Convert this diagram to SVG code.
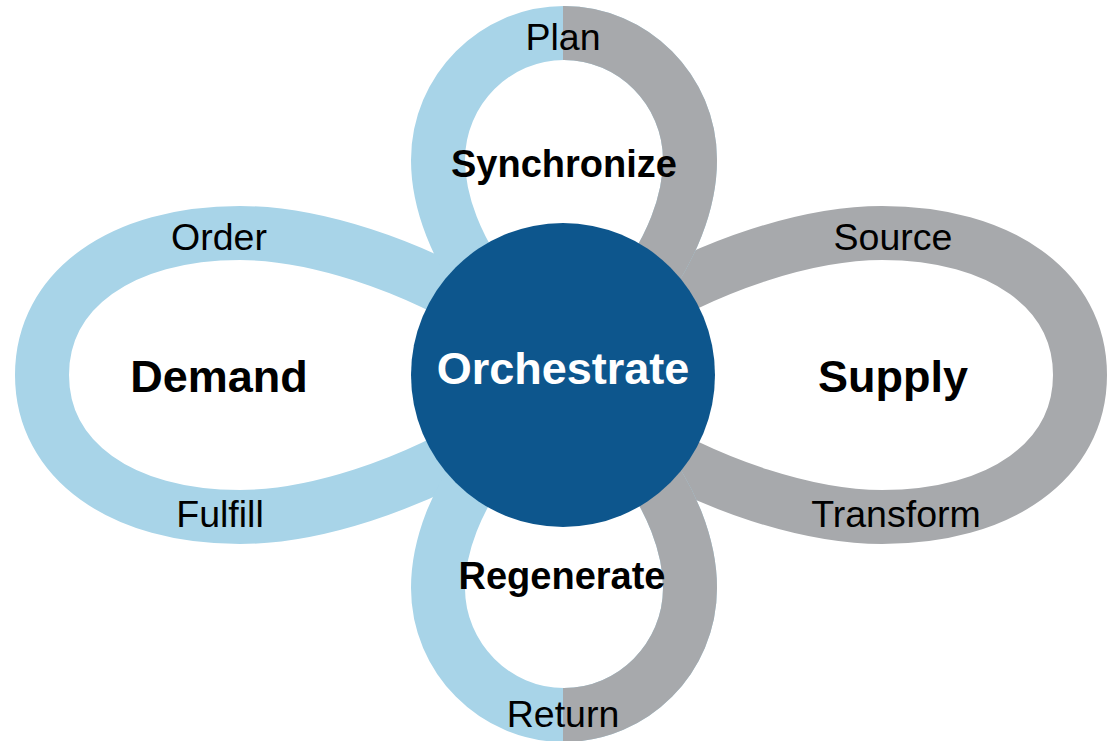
<svg xmlns="http://www.w3.org/2000/svg" width="1113" height="741" viewBox="0 0 1113 741">
<style>
.blue{fill:none;stroke:#a8d4e8;stroke-width:54}
.grey{fill:none;stroke:#a7a9ac;stroke-width:54}
.t{font-family:"Liberation Sans",Arial,Helvetica,sans-serif;text-anchor:middle;fill:#000}
.r{font-size:37.5px}
.b{font-size:38px;font-weight:bold}
.big{font-size:45px;font-weight:bold}
</style>
<defs>
<clipPath id="rightHalf"><rect x="563" y="0" width="560" height="741"/></clipPath>
<path id="topPath" d="M495,300 C455,250 438,200 438,160 C438,90 495,33 564,33 C633,33 690,90 690,160 C690,200 673,250 633,300"/>
<path id="bottomPath" d="M495,448 C455,498 438,548 438,588 C438,658 495,715 564,715 C633,715 690,658 690,588 C690,548 673,498 633,448"/>
</defs>
<g id="connectors">
<g id="loop-demand"><path class="blue" d="M500,320 C410,262 310,233 240,233 C121,233 42,290 42,375 C42,460 121,517 240,517 C310,517 410,488 500,430"/></g>
<g id="loop-supply"><path class="grey" d="M622,320 C712,262 812,233 882,233 C1001,233 1080,290 1080,375 C1080,460 1001,517 882,517 C812,517 712,488 622,430"/></g>
<g id="loop-plan">
<use href="#topPath" class="blue"/>
<use href="#topPath" class="grey" clip-path="url(#rightHalf)"/>
</g>
<g id="loop-return">
<use href="#bottomPath" class="blue"/>
<use href="#bottomPath" class="grey" clip-path="url(#rightHalf)"/>
</g>
</g>
<g id="node-orchestrate">
<circle cx="563" cy="375" r="152" fill="#0d568d"/>
<text class="t big" x="563" y="384" style="fill:#fff">Orchestrate</text>
</g>
<g id="node-demand"><text class="t big" x="219" y="392">Demand</text></g>
<g id="node-supply"><text class="t big" x="893" y="392">Supply</text></g>
<g id="node-synchronize"><text class="t b" x="564" y="177">Synchronize</text></g>
<g id="node-regenerate"><text class="t b" x="562" y="589">Regenerate</text></g>
<g id="label-plan"><text class="t r" x="563" y="50">Plan</text></g>
<g id="label-return"><text class="t r" x="563" y="727">Return</text></g>
<g id="label-order"><text class="t r" x="219" y="250">Order</text></g>
<g id="label-fulfill"><text class="t r" x="220" y="527">Fulfill</text></g>
<g id="label-source"><text class="t r" x="893" y="250">Source</text></g>
<g id="label-transform"><text class="t r" x="896" y="527">Transform</text></g>
</svg>
